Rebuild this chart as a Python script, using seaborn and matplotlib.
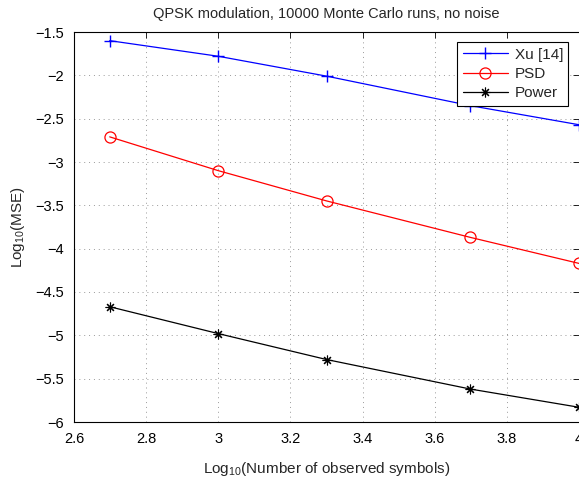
import matplotlib
matplotlib.use("Agg")
import matplotlib.pyplot as plt
import seaborn as sns
import pandas as pd

x_vals = [2.699, 3.0, 3.301, 3.699, 4.0]
xu_vals = [-1.60, -1.78, -2.01, -2.35, -2.57]
psd_vals = [-2.71, -3.10, -3.45, -3.87, -4.17]
power_vals = [-4.67, -4.98, -5.28, -5.62, -5.83]
series_names = ["Xu [14]", "PSD", "Power"]
xticks = [2.6, 2.8, 3.0, 3.2, 3.4, 3.6, 3.8, 4.0]
xticklabels = ["2.6", "2.8", "3", "3.2", "3.4", "3.6", "3.8", "4"]
yticks = [-6, -5.5, -5, -4.5, -4, -3.5, -3, -2.5, -2, -1.5]
yticklabels = ["\u22126", "\u22125.5", "\u22125", "\u22124.5", "\u22124", "\u22123.5", "\u22123", "\u22122.5", "\u22122", "\u22121.5"]

sns.set_style("white")
plt.rcParams['font.family'] = ['Liberation Sans', 'DejaVu Sans']
plt.rcParams['mathtext.default'] = 'regular'

fig = plt.figure(figsize=(5.79, 4.8), dpi=100)
ax = fig.add_axes([74/579, 58/480, 505/579, 390/480])

styles = [
    dict(color="#0000ff", marker="+", markersize=8, mew=1.0, mfc="#0000ff"),
    dict(color="#ff0000", marker="o", markersize=8, mew=0.9, mfc="none"),
    dict(color="#000000", marker=(8, 2, 0), markersize=7, mew=0.8, mfc="#000000"),
]
for name, vals, st in zip(series_names, [xu_vals, psd_vals, power_vals], styles):
    df = pd.DataFrame({"x": x_vals, "y": vals})
    sns.lineplot(data=df, x="x", y="y", ax=ax, label=name, linewidth=0.9,
                 color=st["color"], marker=st["marker"], markersize=st["markersize"],
                 markeredgewidth=st["mew"], markerfacecolor=st["mfc"],
                 markeredgecolor=st["color"])

ax.set_xlim(2.6, 4.0)
ax.set_ylim(-6, -1.5)
ax.set_xticks(xticks)
ax.set_xticklabels(xticklabels)
ax.set_yticks(yticks)
ax.set_yticklabels(yticklabels)
ax.tick_params(direction="in", length=4, width=0.6, top=True, right=True,
               labelsize=10.5, colors="black", pad=7)
ax.grid(True, color="0.6", linestyle=(0, (1, 4)), linewidth=0.7)
for side in ["left", "bottom", "top"]:
    ax.spines[side].set_color("black")
    ax.spines[side].set_linewidth(0.8)
ax.spines["right"].set_visible(False)

ax.set_xlabel("Log$_{10}$(Number of observed symbols)", fontsize=11, labelpad=10)
ax.set_ylabel("Log$_{10}$(MSE)", fontsize=11, labelpad=6)
ax.set_title("QPSK modulation, 10000 Monte Carlo runs, no noise", fontsize=10.5, pad=10)

leg = ax.legend(loc="upper right", bbox_to_anchor=(0.988, 0.985), fontsize=11,
                frameon=True, fancybox=False, edgecolor="black", framealpha=1,
                handlelength=3.0, borderpad=0.35, labelspacing=0.35, handletextpad=0.4,
                borderaxespad=0.3)
leg.get_frame().set_linewidth(0.8)

fig.savefig("out.png", dpi=100)
